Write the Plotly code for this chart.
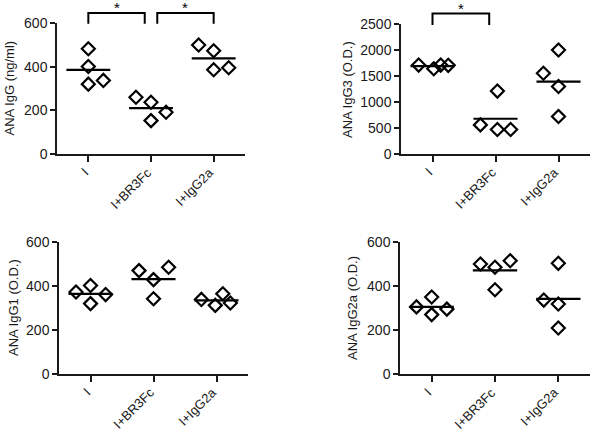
import plotly.graph_objects as go

categories = ["I", "I+BR3Fc", "I+IgG2a"]

# values per group (4 mice each)
ana_igg = [[482, 401, 320, 337], [260, 237, 153, 191], [499, 473, 386, 395]]
ana_igg3 = [[1710, 1640, 1710, 1705], [1210, 560, 470, 470], [1554, 2001, 1298, 722]]
ana_igg1 = [[373, 402, 320, 361], [470, 429, 342, 485], [339, 312, 365, 323]]
ana_igg2a = [[305, 350, 270, 295], [500, 485, 515, 383], [336, 503, 318, 209]]

# horizontal jitter of each point (category units)
jit_igg = [[0, 0, 0, 0.24], [-0.24, 0, 0, 0.24], [-0.24, 0, 0, 0.24]]
jit_igg3 = [[-0.22, 0.02, 0.13, 0.25], [0.03, -0.24, 0.03, 0.24], [-0.24, 0, 0, 0]]
jit_igg1 = [[-0.23, 0, 0, 0.24], [-0.23, 0, 0, 0.24], [-0.24, -0.02, 0.1, 0.22]]
jit_igg2a = [[-0.24, 0, 0, 0.24], [-0.23, 0, 0.24, 0], [-0.23, 0, 0, 0]]

titles = ["ANA IgG (ng/ml)", "ANA IgG3 (O.D.)", "ANA IgG1 (O.D.)", "ANA IgG2a (O.D.)"]
yranges = [600, 2500, 600, 600]
dticks = [200, 500, 200, 200]

# significance brackets: (panel, cat_from, cat_to, y_top, y_leg)
brackets = [(1, 0, 0.9, 646, 596), (1, 1.1, 2.0, 646, 596), (2, 0, 0.9, 2700, 2480)]

panels = [ana_igg, ana_igg3, ana_igg1, ana_igg2a]
jitters = [jit_igg, jit_igg3, jit_igg1, jit_igg2a]

W, H = 594, 431
# plot area boxes in pixels: (left, right, top, bottom)
boxes = [(57, 245, 23, 154), (401, 590, 24, 154), (59, 248, 242, 374), (400, 590, 242, 374)]
title_x = [9, 347, 13, 352]

FONT = "Liberation Sans, Arial, sans-serif"
INK = "#1a1a1a"

fig = go.Figure()
layout = {}
annotations = []
shapes = []
for k in range(4):
    n = "" if k == 0 else str(k + 1)
    xa, ya = "x" + n, "y" + n
    vals, jit = panels[k], jitters[k]
    xs, ys = [], []
    for i in range(3):
        for v, j in zip(vals[i], jit[i]):
            xs.append(i + j)
            ys.append(v)
    fig.add_trace(go.Scatter(
        x=xs, y=ys, mode="markers", xaxis=xa, yaxis=ya, showlegend=False,
        marker=dict(symbol="diamond-open", size=10, color="black", line=dict(width=2.2, color="black")),
        cliponaxis=False, hoverinfo="skip"))
    for i in range(3):
        m = sum(vals[i]) / len(vals[i])
        fig.add_trace(go.Scatter(
            x=[i - 0.35, i + 0.35], y=[m, m], mode="lines", xaxis=xa, yaxis=ya,
            showlegend=False, line=dict(color="black", width=2.2), hoverinfo="skip"))
    l, r, t, b = boxes[k]
    layout["xaxis" + n] = dict(
        domain=[l / W, r / W], range=[-0.5, 2.5], anchor=ya, automargin=False,
        tickmode="array", tickvals=[0, 1, 2], showticklabels=False,
        showline=True, linecolor=INK, linewidth=1.5, ticks="outside", ticklen=6,
        tickwidth=1.5, tickcolor=INK, showgrid=False, zeroline=False, fixedrange=True)
    layout["yaxis" + n] = dict(
        domain=[1 - b / H, 1 - t / H], range=[0, yranges[k]], anchor=xa, automargin=False,
        dtick=dticks[k], tick0=0, showline=True, linecolor=INK, linewidth=1.5,
        ticks="outside", ticklen=5, tickwidth=1.5, tickcolor=INK, showgrid=False,
        zeroline=False, tickfont=dict(family=FONT, size=14, color=INK), fixedrange=True)
    # rotated category labels
    for i, c in enumerate(categories):
        annotations.append(dict(
            text=c, xref=xa + " domain", x=(i + 0.5) / 3, yref=ya + " domain", y=0,
            xanchor="right", yanchor="top", textangle=-45, showarrow=False,
            xshift=6, yshift=-8, font=dict(family=FONT, size=13, color=INK)))
    annotations.append(dict(
        text=titles[k], xref="paper", x=title_x[k] / W, xanchor="center",
        yref=ya + " domain", y=0.5, yanchor="middle", textangle=-90,
        showarrow=False, font=dict(family=FONT, size=13, color=INK)))

for (p, c0, c1, ytop, yleg) in brackets:
    n = "" if p == 1 else str(p)
    ymax = yranges[p - 1]
    fx0 = (c0 + 0.5) / 3
    fx1 = (c1 + 0.5) / 3
    shapes.append(dict(
        type="path", xref="x" + n + " domain", yref="y" + n + " domain",
        path=f"M {fx0} {yleg / ymax} L {fx0} {ytop / ymax} L {fx1} {ytop / ymax} L {fx1} {yleg / ymax}",
        line=dict(color="black", width=2)))
    annotations.append(dict(
        text="*", xref="x" + n + " domain", x=((c0 + c1) / 2 + 0.5) / 3,
        yref="y" + n + " domain", y=ytop / ymax,
        yanchor="bottom", xanchor="center", showarrow=False, yshift=-5,
        font=dict(family=FONT, size=15, color="black")))

fig.update_layout(
    width=W, height=H, margin=dict(l=0, r=0, t=0, b=0, pad=0, autoexpand=False),
    paper_bgcolor="white", plot_bgcolor="white", hovermode=False,
    annotations=annotations, shapes=shapes, **layout)

fig.write_html("out.html", config={"displayModeBar": False},
               post_script="document.body.style.margin='0px';document.body.style.padding='0px';")
